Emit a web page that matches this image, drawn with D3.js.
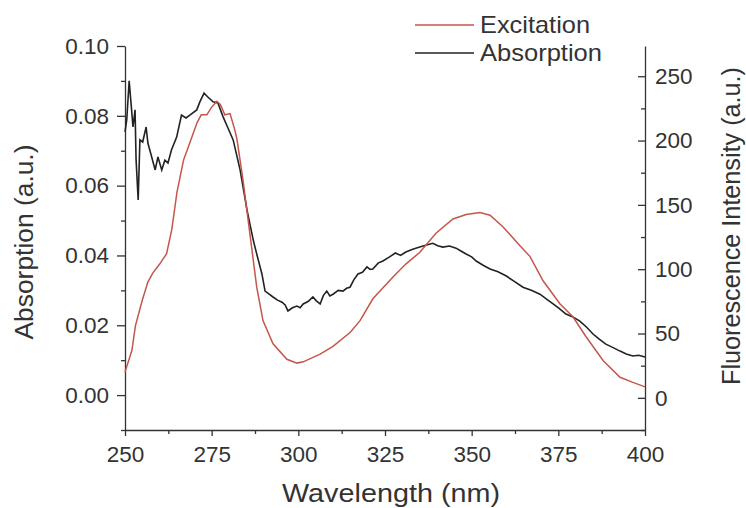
<!DOCTYPE html>
<html>
<head>
<meta charset="utf-8">
<script src="https://cdn.jsdelivr.net/npm/d3@7"></script>
<style>
  body { margin: 0; background: #fff; }
  svg { display: block; font-family: "Liberation Sans", Arial, sans-serif; }
  .axis path, .axis line { stroke: #333; stroke-width: 1.3; }
  .axis text { fill: #333; font-size: 22.5px; }
</style>
</head>
<body>
<div id="chart"></div>
<script>
// excitation spectrum (right axis, a.u.)
const exWl = [250, 252, 253, 255, 256.6, 258, 260, 262, 263.5, 265, 266.9, 268, 270.8, 272, 273.6, 275, 276.5,
  277.5, 278.8, 280.3, 281.5, 282.3, 284, 286, 288, 289.8, 292.7, 296.7, 299.6, 301.4, 306.3, 310, 315,
  317.8, 321.5, 327.3, 331, 335, 339.7, 344.6, 348.4, 352.4, 355.3, 359, 364, 366.8, 370.6, 375.5, 379.2,
  383, 387.9, 392.8, 396.5, 400]
const exVal = [20, 37, 56, 76, 90, 97, 104, 112, 131, 160, 185, 193, 214, 220, 220, 226, 230.5,
  228, 220, 221, 210, 201, 170, 128, 86, 60, 42, 30, 27, 28, 34, 40, 51,
  60, 77, 94, 104, 113, 128, 139, 142.5, 144, 142, 133, 118, 110, 91, 73, 63,
  47.5, 29, 16, 12, 8.5]

// absorption spectrum (left axis)
const abWl = [250, 250.5, 251.2, 251.9, 252.3, 252.9, 253.2, 253.8, 254.3, 255.1, 256.1, 256.6, 257.7, 258.7,
  259.5, 260.6, 261.5, 262.4, 263.4, 264.9, 266.3, 267.6, 268.7, 270.7, 271.6, 272.8, 273.9, 275.4, 276.8,
  278.3, 279.7, 281.2, 283.2, 285.2, 287, 288, 289.5, 290.4, 291.5, 292.7, 294, 295.3, 296.2, 297, 298.3,
  299.6, 300.5, 301.4, 302.8, 304.2, 305.2, 306.3, 307.2, 308.2, 309.1, 310, 311.5, 312.9, 313.9, 314.9,
  316, 317.2, 318.5, 319.8, 320.7, 321.5, 323, 324.4, 326.2, 328, 329.5, 331, 333, 335, 337, 338.8, 340.2,
  341.7, 343.6, 345.5, 347, 348.4, 350, 351.3, 353.3, 355.3, 357.6, 360, 362.4, 364.8, 367.2, 369.7, 371.6,
  373.5, 375.3, 377.2, 379.2, 381.2, 383.1, 385, 386.8, 388.7, 390.8, 392.8, 394.6, 396.5, 398.2, 400]
const abVal = [0.0754, 0.0788, 0.0900, 0.0817, 0.0768, 0.0817, 0.0673, 0.0559, 0.0731, 0.0725, 0.0768, 0.0722,
  0.0682, 0.0645, 0.0682, 0.0645, 0.0673, 0.0665, 0.0702, 0.0739, 0.0802, 0.0794, 0.0802, 0.0817, 0.0840,
  0.0865, 0.0854, 0.0840, 0.0837, 0.0797, 0.0765, 0.0731, 0.0645, 0.0530, 0.0444, 0.0404, 0.0347, 0.0298,
  0.0290, 0.0281, 0.0272, 0.0266, 0.0258, 0.0241, 0.0250, 0.0255, 0.0250, 0.0261, 0.0268, 0.0281, 0.0270,
  0.0261, 0.0285, 0.0298, 0.0284, 0.0289, 0.0300, 0.0298, 0.0306, 0.0309, 0.0330, 0.0347, 0.0352, 0.0367,
  0.0360, 0.0361, 0.0378, 0.0384, 0.0395, 0.0407, 0.0400, 0.0410, 0.0418, 0.0424, 0.0430, 0.0435, 0.0428,
  0.0424, 0.0427, 0.0421, 0.0412, 0.0404, 0.0396, 0.0384, 0.0372, 0.0361, 0.0353, 0.0341, 0.0325, 0.0309,
  0.0300, 0.0289, 0.0275, 0.0261, 0.0248, 0.0232, 0.0224, 0.0212, 0.0195, 0.0175, 0.0160, 0.0146, 0.0136,
  0.0126, 0.0118, 0.0112, 0.0114, 0.0109]

const xTicks = [250, 275, 300, 325, 350, 375, 400]
const xMinor = [262.5, 287.5, 312.5, 337.5, 362.5, 387.5]
const yLTicks = [0, 0.02, 0.04, 0.06, 0.08, 0.10]
const yLMinor = [-0.01, 0.01, 0.03, 0.05, 0.07, 0.09]
const yRTicks = [0, 50, 100, 150, 200, 250]
const yRMinor = [-25, 25, 75, 125, 175, 225]

const width = 746, height = 508
const margin = [46, 101, 78, 125] // top right bottom left
const red = "#c4564b", black = "#222"

const svg = d3.select("#chart").append("svg")
  .attr("width", width).attr("height", height)

const x = d3.scaleLinear().domain([250, 400]).range([margin[3], width - margin[1]])
const yL = d3.scaleLinear().domain([-0.01, 0.10]).range([height - margin[2], margin[0]])
const yR = d3.scaleLinear().domain([-25, 273.5]).range([height - margin[2], margin[0]])

const bottom = height - margin[2]

svg.append("g").attr("class", "axis")
  .attr("transform", `translate(0,${bottom})`)
  .call(d3.axisBottom(x).tickValues(xTicks).tickSize(6).tickPadding(10).tickSizeOuter(0))
svg.append("g").attr("class", "axis")
  .attr("transform", `translate(0,${bottom})`)
  .call(d3.axisBottom(x).tickValues(xMinor).tickSize(4).tickFormat("").tickSizeOuter(0))
  .select(".domain").remove()

svg.append("g").attr("class", "axis")
  .attr("transform", `translate(${margin[3]},0)`)
  .call(d3.axisLeft(yL).tickValues(yLTicks).tickSize(8).tickPadding(8).tickSizeOuter(0).tickFormat(d3.format(".2f")))
svg.append("g").attr("class", "axis")
  .attr("transform", `translate(${margin[3]},0)`)
  .call(d3.axisLeft(yL).tickValues(yLMinor).tickSize(4).tickFormat("").tickSizeOuter(0))
  .select(".domain").remove()

svg.append("g").attr("class", "axis")
  .attr("transform", `translate(${width - margin[1]},0)`)
  .call(d3.axisRight(yR).tickValues(yRTicks).tickSize(-7).tickPadding(10).tickSizeOuter(0))
svg.append("g").attr("class", "axis")
  .attr("transform", `translate(${width - margin[1]},0)`)
  .call(d3.axisRight(yR).tickValues(yRMinor).tickSize(-4).tickFormat("").tickSizeOuter(0))
  .select(".domain").remove()

// curves
const exLine = d3.line().x(i => x(exWl[i])).y(i => yR(exVal[i]))
const abLine = d3.line().x(i => x(abWl[i])).y(i => yL(abVal[i]))

svg.append("path")
  .attr("d", abLine(d3.range(abWl.length)))
  .attr("fill", "none").attr("stroke", black).attr("stroke-width", 1.6)
svg.append("path")
  .attr("d", exLine(d3.range(exWl.length)))
  .attr("fill", "none").attr("stroke", red).attr("stroke-width", 1.5)

// axis titles (the reference font runs wide, so fix the lengths)
const title = (txt, len) => svg.append("text")
  .attr("text-anchor", "middle").attr("fill", "#333").style("font-size", "25px")
  .attr("textLength", len).attr("lengthAdjust", "spacingAndGlyphs")
  .text(txt)
title("Absorption (a.u.)", 195).attr("transform", "translate(33,242) rotate(-90)")
title("Fluorescence Intensity (a.u.)", 318).attr("transform", "translate(740,226) rotate(-90)")
title("Wavelength (nm)", 218).attr("transform", "translate(391,502)")

// legend
const legend = [["Excitation", red, 110], ["Absorption", black, 122]]
legend.forEach(([name, c, len], i) => {
  const ly = 25 + i * 28
  svg.append("line")
    .attr("x1", 415).attr("x2", 474).attr("y1", ly).attr("y2", ly)
    .attr("stroke", c).attr("stroke-width", 1.5)
  svg.append("text")
    .attr("x", 480).attr("y", ly + 8)
    .attr("fill", "#333").style("font-size", "24px")
    .attr("textLength", len).attr("lengthAdjust", "spacingAndGlyphs")
    .text(name)
})
</script>
</body>
</html>
